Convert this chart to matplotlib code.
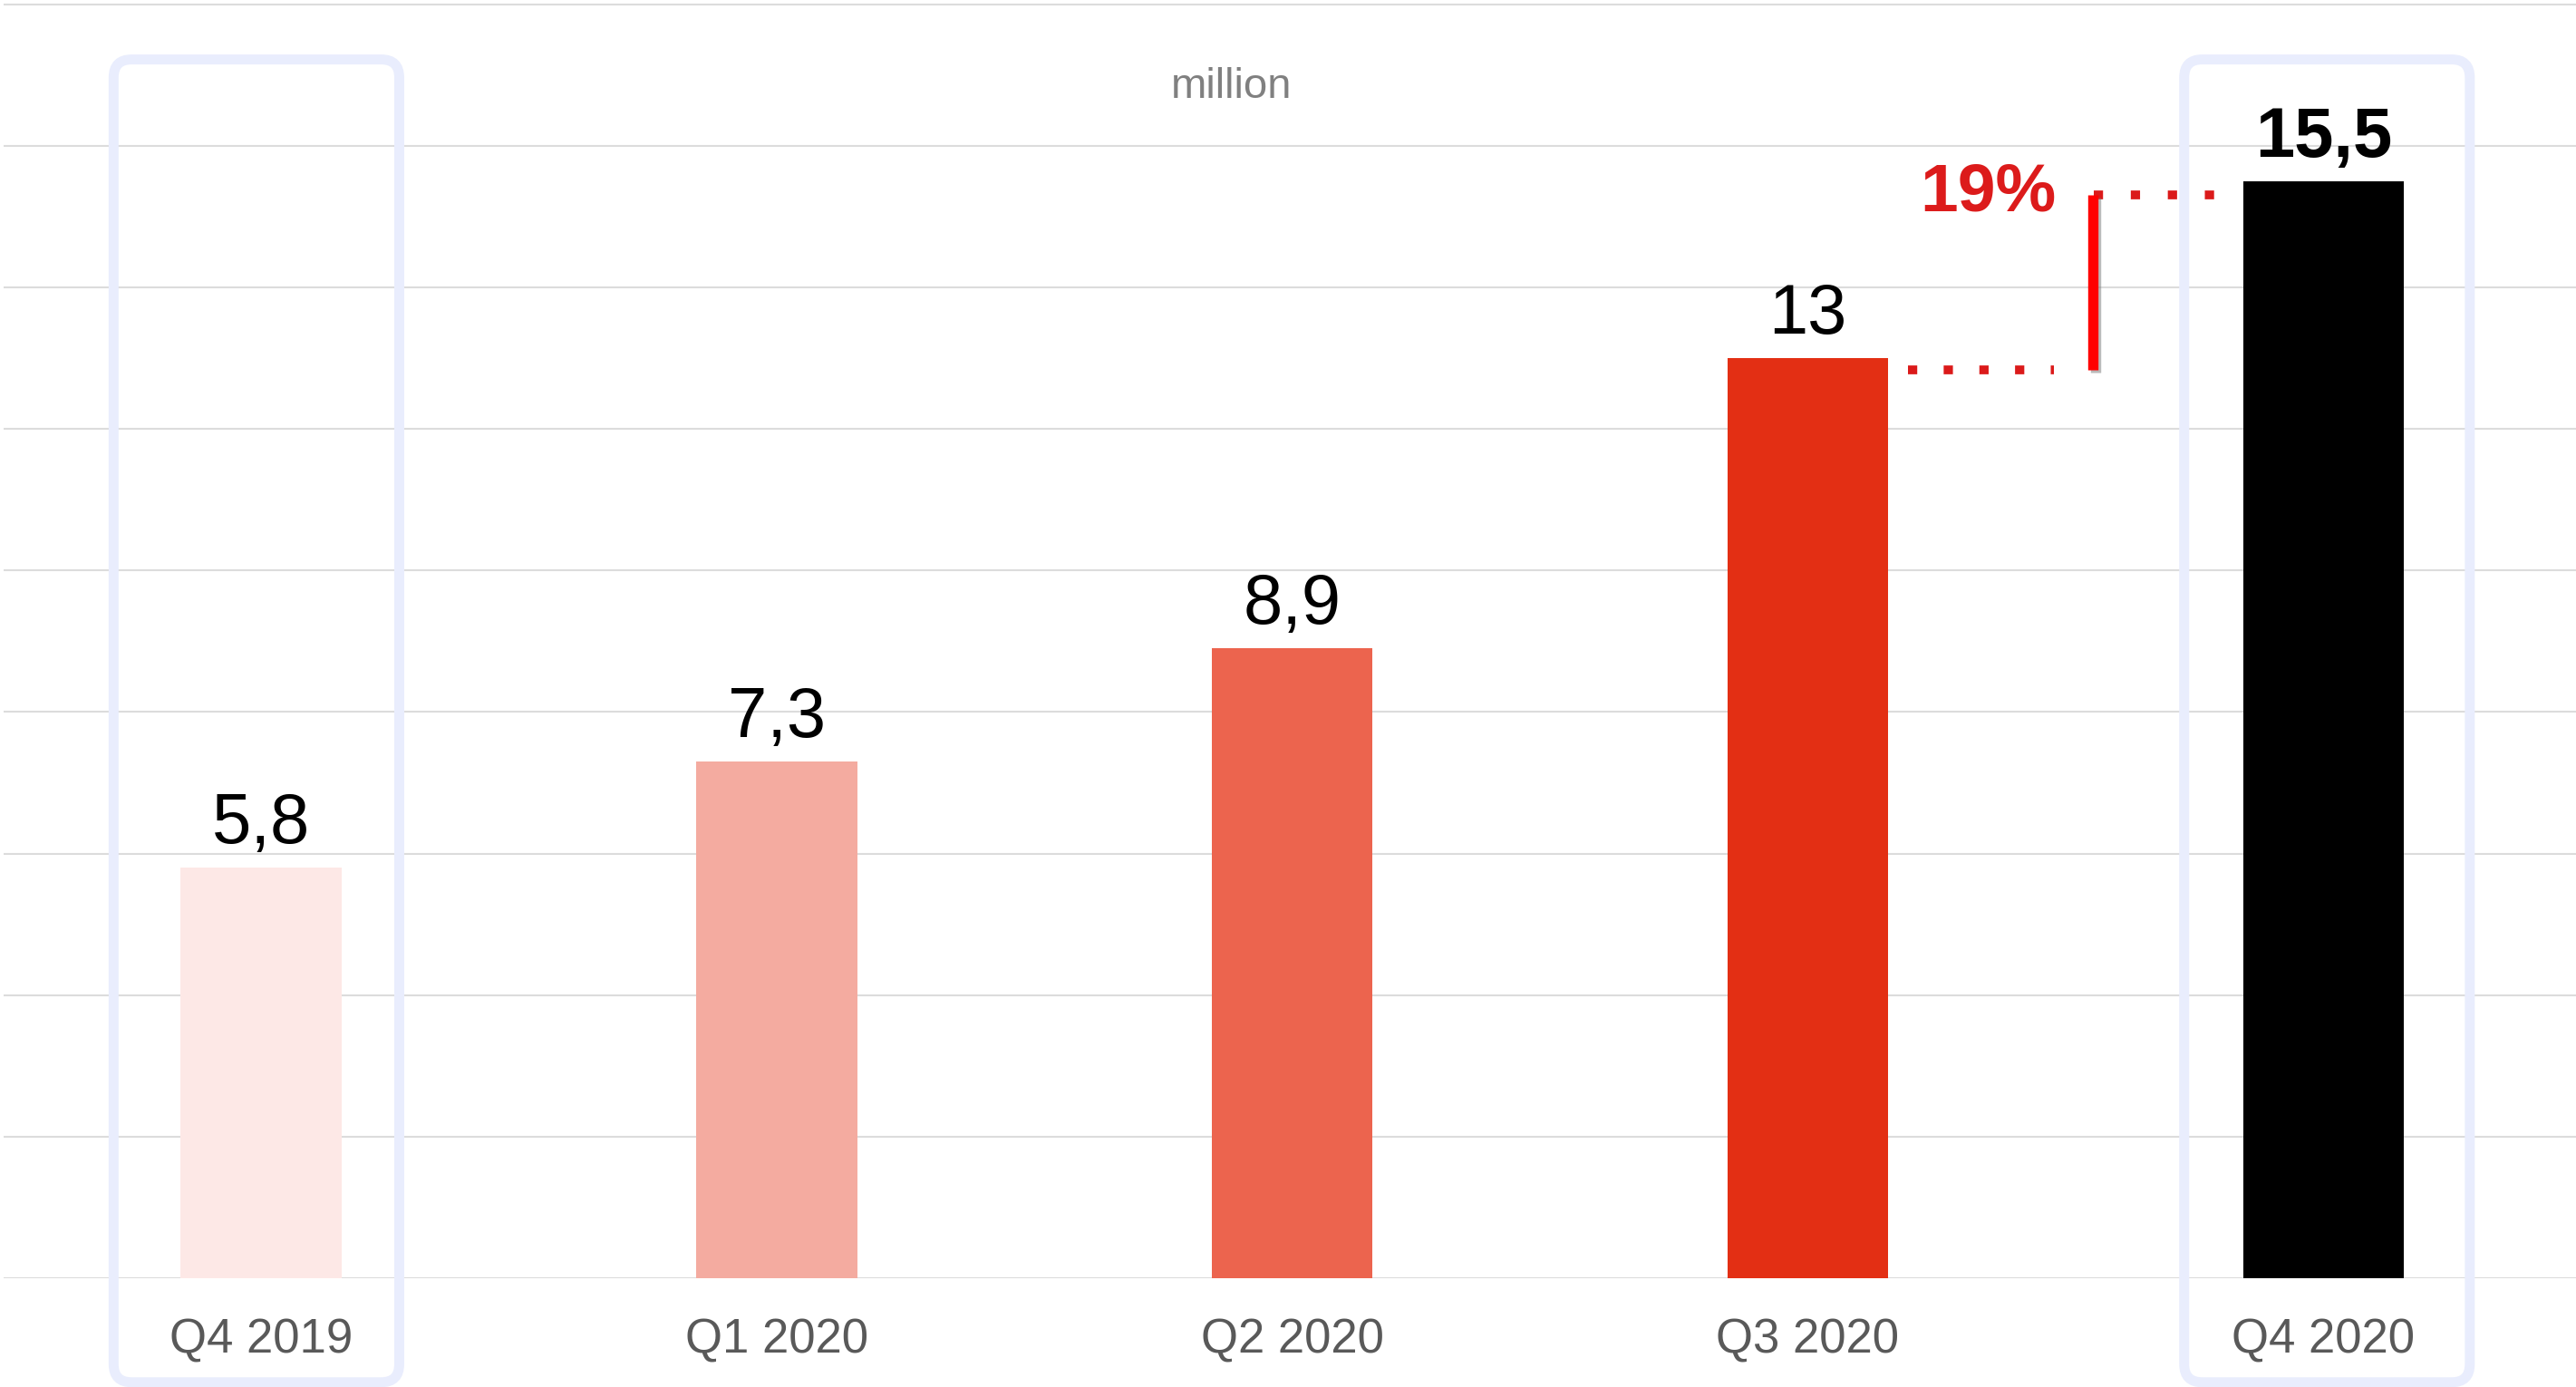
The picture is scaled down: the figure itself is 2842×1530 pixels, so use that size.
import matplotlib
matplotlib.use("Agg")
import matplotlib.pyplot as plt
from matplotlib.patches import FancyBboxPatch
import matplotlib.patheffects as pe

plt.rcParams['font.family'] = ['Liberation Sans', 'DejaVu Sans']

# quarterly values, million
quarters = ['Q4 2019', 'Q1 2020', 'Q2 2020', 'Q3 2020', 'Q4 2020']
values = [5.8, 7.3, 8.9, 13, 15.5]
value_labels = ['5,8', '7,3', '8,9', '13', '15,5']
bar_colors = ['#FDE8E6', '#F4ABA0', '#EC644E', '#E32F14', '#000000']
highlighted = [0, 4]
growth_label = '19%'

fig = plt.figure(figsize=(28.42, 15.30), dpi=100)
ax = fig.add_axes([0.00127, 120 / 1530, 1 - 0.00127, 1410 / 1530])

x = list(range(len(quarters)))
ax.bar(x, values, width=0.312, color=bar_colors, zorder=3)

ax.set_xlim(-0.5, 4.49)
ax.set_ylim(0, 18.06)
ax.set_yticks(range(0, 19, 2))
ax.yaxis.grid(True, color='#DCDCDC', linewidth=1.5, zorder=0)
ax.set_axisbelow(True)
ax.tick_params(left=False, bottom=False, labelleft=False, labelbottom=False)
for s in ax.spines.values():
    s.set_visible(False)

# rounded frames around first and last quarter
aspect = 7.285
box_shift = {0: -0.009, 4: 0.007}
for i in highlighted:
    cx = i + box_shift[i]
    box = FancyBboxPatch((cx - 0.277, -1.47), 0.554, 17.22 + 1.47,
                         boxstyle="round,pad=0,rounding_size=0.035",
                         mutation_aspect=aspect, fill=False,
                         ec='#E9EDFD', lw=7.9, clip_on=False, zorder=2)
    ax.add_patch(box)

# value labels above bars
for i, (v, lab) in enumerate(zip(values, value_labels)):
    ax.annotate(lab, (i, v), xytext=(0, 19.5), textcoords='offset points',
                ha='center', va='baseline', fontsize=56, color='black',
                fontweight='bold' if i == len(values) - 1 else 'normal',
                zorder=5)

# category labels under the axis
for i, q in enumerate(quarters):
    ax.text(i, -1.06, q, ha='center', va='baseline', fontsize=38,
            color='#595959', clip_on=False)

ax.text(1.883, 16.68, 'million', ha='center', va='baseline', fontsize=34,
        color='#808080')

# growth marker between Q3 and Q4 2020
lo = values[3] - 0.17
hi = values[4] - 0.2
dot_red = '#DB1A1A'
ax.plot([3.195, 3.478], [lo, lo], color=dot_red, lw=7,
        ls=(0, (1.05, 3.0)), dash_capstyle='butt', zorder=4)
ax.plot([3.555, 3.80], [hi, hi], color=dot_red, lw=7,
        ls=(0, (1.05, 3.15)), dash_capstyle='butt', zorder=4)
ax.plot([3.553, 3.553], [lo, hi], color='#FF0000', lw=8.2,
        solid_capstyle='butt', zorder=5,
        path_effects=[pe.SimpleLineShadow(offset=(2, -2), shadow_color='#777777', alpha=0.5),
                      pe.Normal()])
ax.text(3.481, hi - 0.22, growth_label, ha='right', va='baseline',
        fontsize=54, fontweight='bold', color='#DC1B1B', zorder=5)

fig.savefig('out.png', dpi=100)
